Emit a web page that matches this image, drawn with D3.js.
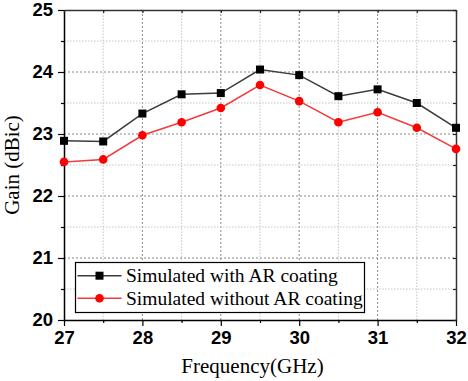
<!DOCTYPE html>
<html>
<head>
<meta charset="utf-8">
<script src="https://cdn.jsdelivr.net/npm/d3@7"></script>
<style>
  html, body { margin: 0; padding: 0; background: #fff; }
  svg { display: block; }
</style>
</head>
<body>
<svg id="chart" width="468" height="381"></svg>
<script>
// Gain versus frequency, with and without the anti-reflection coating
const frequencies = [27, 27.5, 28, 28.5, 29, 29.5, 30, 30.5, 31, 31.5, 32];
const gainWithAR = [22.89, 22.88, 23.33, 23.64, 23.66, 24.04, 23.95, 23.61, 23.72, 23.50, 23.10];
const gainWithoutAR = [22.55, 22.59, 22.98, 23.19, 23.42, 23.79, 23.53, 23.19, 23.35, 23.10, 22.76];
const seriesNames = ["Simulated with AR coating", "Simulated without AR coating"];
const xTicks = [27, 28, 29, 30, 31, 32];
const yTicks = [20, 21, 22, 23, 24, 25];

const svg = d3.select("#chart");
const margin = { left: 64, right: 12, top: 10, bottom: 61 };
const W = 468, H = 381;
const x = d3.scaleLinear().domain([27, 32]).range([margin.left, W - margin.right]);
const y = d3.scaleLinear().domain([20, 25]).range([H - margin.bottom, margin.top]);

const halfX = d3.range(27, 32.01, 0.5);
const halfY = d3.range(20, 25.01, 0.5);
const isMajor = v => Math.abs(v - Math.round(v)) < 1e-6;

// Grid: dashed at whole units, fainter dotted at halves
const grid = svg.append("g");
grid.selectAll("line.gx").data(halfX.filter(v => v > 27 && v < 32)).join("line")
  .attr("x1", d => x(d)).attr("x2", d => x(d))
  .attr("y1", y(20)).attr("y2", y(25))
  .attr("stroke", d => isMajor(d) ? "#8a8a8a" : "#c4c4c4")
  .attr("stroke-width", 1)
  .attr("stroke-dasharray", d => isMajor(d) ? "2,2" : "1.5,1.5");
grid.selectAll("line.gy").data(halfY.filter(v => v > 20 && v < 25)).join("line")
  .attr("x1", x(27)).attr("x2", x(32))
  .attr("y1", d => y(d)).attr("y2", d => y(d))
  .attr("stroke", d => isMajor(d) ? "#8a8a8a" : "#c4c4c4")
  .attr("stroke-width", 1)
  .attr("stroke-dasharray", d => isMajor(d) ? "2,2" : "1.5,1.5");

// Axes
const fmt = d3.format("d");
const tickFont = g => g.selectAll("text")
  .attr("font-family", "'Liberation Sans', Arial, sans-serif")
  .attr("font-weight", "bold").attr("font-size", "18.5px").attr("fill", "#000");

const axisBottomG = svg.append("g").attr("transform", `translate(0,${y(20)})`)
  .call(d3.axisBottom(x).tickValues(xTicks).tickFormat(fmt).tickSize(6).tickSizeOuter(0).tickPadding(5));
axisBottomG.call(tickFont);
axisBottomG.selectAll("line").attr("stroke", "#000").attr("stroke-width", 1.2);
axisBottomG.select(".domain").attr("stroke", "#000").attr("stroke-width", 1.5);
svg.append("g").attr("transform", `translate(0,${y(20)})`)
  .call(d3.axisBottom(x).tickValues(halfX.filter(v => !isMajor(v))).tickSize(3).tickFormat(""))
  .call(g => g.select(".domain").remove())
  .selectAll("line").attr("stroke", "#000").attr("stroke-width", 1.2);

const axisLeftG = svg.append("g").attr("transform", `translate(${x(27)},0)`)
  .call(d3.axisLeft(y).tickValues(yTicks).tickFormat(fmt).tickSize(6).tickSizeOuter(0).tickPadding(5));
axisLeftG.call(tickFont);
axisLeftG.selectAll("line").attr("stroke", "#000").attr("stroke-width", 1.2);
axisLeftG.select(".domain").attr("stroke", "#000").attr("stroke-width", 1.5);
svg.append("g").attr("transform", `translate(${x(27)},0)`)
  .call(d3.axisLeft(y).tickValues(halfY.filter(v => !isMajor(v))).tickSize(3).tickFormat(""))
  .call(g => g.select(".domain").remove())
  .selectAll("line").attr("stroke", "#000").attr("stroke-width", 1.2);

// Top and right frame with small inward ticks
const axisTopG = svg.append("g").attr("transform", `translate(0,${y(25)})`)
  .call(d3.axisTop(x).tickValues(halfX).tickSize(-3).tickSizeOuter(0).tickFormat(""));
axisTopG.selectAll("line").attr("stroke", "#222").attr("stroke-width", 1.2);
axisTopG.select(".domain").attr("stroke", "#333").attr("stroke-width", 1.5);
const axisRightG = svg.append("g").attr("transform", `translate(${x(32)},0)`)
  .call(d3.axisRight(y).tickValues(halfY).tickSize(-3).tickSizeOuter(0).tickFormat(""));
axisRightG.selectAll("line").attr("stroke", "#222").attr("stroke-width", 1.2);
axisRightG.select(".domain").attr("stroke", "#333").attr("stroke-width", 1.5);

// Axis titles
svg.append("text")
  .attr("x", 252.5).attr("y", 373)
  .attr("text-anchor", "middle")
  .attr("font-family", "'Liberation Serif', 'Times New Roman', serif")
  .attr("font-size", "21px").attr("fill", "#000")
  .text("Frequency(GHz)");
svg.append("text")
  .attr("transform", `translate(18.5,${(y(20) + y(25)) / 2}) rotate(-90)`)
  .attr("text-anchor", "middle")
  .attr("font-family", "'Liberation Serif', 'Times New Roman', serif")
  .attr("font-size", "21px").attr("fill", "#000")
  .text("Gain (dBic)");

// Series
const series = [
  { name: seriesNames[0], values: gainWithAR, color: "#000", line: "#3c3c3c", shape: "square" },
  { name: seriesNames[1], values: gainWithoutAR, color: "#ff0000", line: "#f03c3c", shape: "circle" }
];
const lineGen = d3.line().x((d, i) => x(frequencies[i])).y(d => y(d));

function drawMarker(g, shape, color, cx, cy) {
  if (shape === "square") {
    g.append("rect").attr("x", cx - 4).attr("y", cy - 4).attr("width", 8).attr("height", 8).attr("fill", color);
  } else {
    g.append("circle").attr("cx", cx).attr("cy", cy).attr("r", 4.3).attr("fill", color);
  }
}

series.forEach(s => {
  svg.append("path").datum(s.values)
    .attr("d", lineGen).attr("fill", "none")
    .attr("stroke", s.line).attr("stroke-width", 1.5);
  const mg = svg.append("g");
  s.values.forEach((v, i) => drawMarker(mg, s.shape, s.color, x(frequencies[i]), y(v)));
});

// Legend
const lg = svg.append("g");
lg.append("rect")
  .attr("x", 75.5).attr("y", 262.5).attr("width", 289).attr("height", 50)
  .attr("fill", "#fff").attr("stroke", "#000").attr("stroke-width", 1.2);
series.forEach((s, i) => {
  const cy = 275.7 + i * 22.6;
  lg.append("line").attr("x1", 77.5).attr("x2", 121.5).attr("y1", cy).attr("y2", cy)
    .attr("stroke", s.line).attr("stroke-width", 1.5);
  drawMarker(lg, s.shape, s.color, 99.5, cy);
  lg.append("text").attr("x", 126).attr("y", cy + 6.4)
    .attr("font-family", "'Liberation Serif', 'Times New Roman', serif")
    .attr("font-size", "19.5px").attr("fill", "#000")
    .text(s.name);
});
</script>
</body>
</html>
